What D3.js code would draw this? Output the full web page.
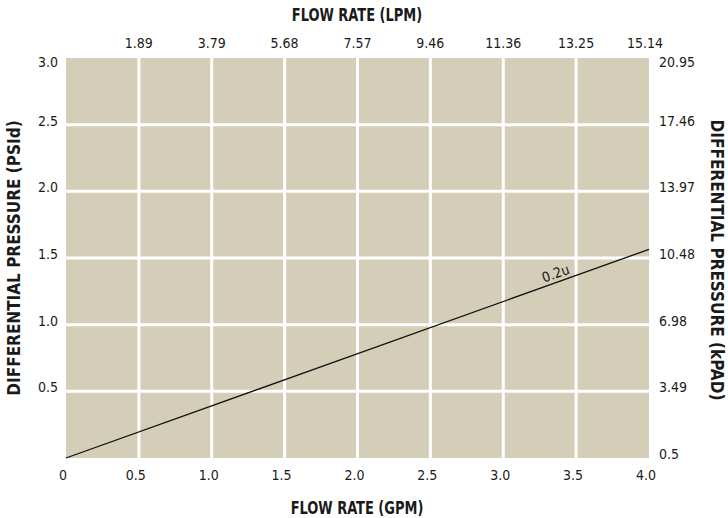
<!DOCTYPE html>
<html>
<head>
<meta charset="utf-8">
<script src="https://cdn.jsdelivr.net/npm/d3@7"></script>
<style>
body { margin: 0; background: #fff; }
text { font-family: "Liberation Sans Narrow", "DejaVu Sans Condensed", "Roboto", sans-serif; fill: #1a1a1a; }
.tick { font-size: 14px; }
.title { font-size: 17px; font-weight: bold; }
</style>
</head>
<body>
<svg id="chart" width="728" height="518"></svg>
<script>
// data
var gpmTicks = [0, 0.5, 1.0, 1.5, 2.0, 2.5, 3.0, 3.5, 4.0]
var lpmLabels = ['1.89', '3.79', '5.68', '7.57', '9.46', '11.36', '13.25', '15.14']
var psiTicks = [0.5, 1.0, 1.5, 2.0, 2.5, 3.0]
var kpaLabels = ['0.5', '3.49', '6.98', '10.48', '13.97', '17.46', '20.95']
var seriesName = '0.2u'
var flowGpm = [0, 4.0]
var dpPsi = [0, 1.565]

var svg = d3.select('#chart')
var m = { left: 66, right: 649, top: 58, bottom: 458 }
var x = d3.scaleLinear().domain([0, 4]).range([m.left, m.right])
var y = d3.scaleLinear().domain([0, 3]).range([m.bottom, m.top])

svg.append('rect')
    .attr('x', m.left).attr('y', m.top)
    .attr('width', m.right - m.left).attr('height', m.bottom - m.top)
    .attr('fill', '#d4cdb8')

// grid
svg.selectAll('line.vgrid')
    .data(gpmTicks.slice(1, -1))
    .enter().append('line')
        .attr('class', 'vgrid')
        .attr('x1', function(d) { return x(d); }).attr('x2', function(d) { return x(d); })
        .attr('y1', m.top).attr('y2', m.bottom)
        .attr('stroke', '#fff').attr('stroke-width', 3)
svg.selectAll('line.hgrid')
    .data(psiTicks.slice(0, -1))
    .enter().append('line')
        .attr('class', 'hgrid')
        .attr('y1', function(d) { return y(d); }).attr('y2', function(d) { return y(d); })
        .attr('x1', m.left).attr('x2', m.right)
        .attr('stroke', '#fff').attr('stroke-width', 3)

// series line
var pts = flowGpm.map(function(d, i) { return [d, dpPsi[i]]; })
svg.append('path')
    .datum(pts)
    .attr('fill', 'none').attr('stroke', '#111').attr('stroke-width', 1.3)
    .attr('d', d3.line().x(function(d) { return x(d[0]); }).y(function(d) { return y(d[1]); }))

var lx = 3.38
var ly = lx * dpPsi[1] / flowGpm[1]
var ang = Math.atan2(y(dpPsi[1]) - y(0), x(flowGpm[1]) - x(0)) * 180 / Math.PI
svg.append('text')
    .attr('class', 'tick')
    .attr('text-anchor', 'middle')
    .attr('transform', 'translate(' + x(lx) + ',' + y(ly) + ') rotate(' + ang + ') translate(0,-4)')
    .text(seriesName)

// bottom ticks
svg.selectAll('text.bx')
    .data(gpmTicks)
    .enter().append('text')
        .attr('class', 'tick bx')
        .attr('text-anchor', 'middle')
        .attr('x', function(d) { return x(d) - 3; })
        .attr('y', 480)
        .text(function(d) { return d == 0 ? '0' : d.toFixed(1); })

// top ticks
svg.selectAll('text.tx')
    .data(lpmLabels)
    .enter().append('text')
        .attr('class', 'tick tx')
        .attr('text-anchor', 'middle')
        .attr('x', function(d, i) { return x(gpmTicks[i + 1]) - (i == lpmLabels.length - 1 ? 4 : 0); })
        .attr('y', 48)
        .text(function(d) { return d; })

function labelY(v) { return Math.max(y(v) - 4, m.top + 4) + 5; }

// left ticks
svg.selectAll('text.ly')
    .data(psiTicks)
    .enter().append('text')
        .attr('class', 'tick ly')
        .attr('text-anchor', 'end')
        .attr('x', 58)
        .attr('y', function(d) { return labelY(d); })
        .text(function(d) { return d.toFixed(1); })

// right ticks
svg.selectAll('text.ry')
    .data(kpaLabels)
    .enter().append('text')
        .attr('class', 'tick ry')
        .attr('x', 659)
        .attr('y', function(d, i) { return labelY(i * 0.5); })
        .text(function(d) { return d; })

// titles
svg.append('text').attr('class', 'title').attr('text-anchor', 'middle')
    .attr('transform', 'translate(357,21) scale(0.85,1)').text('FLOW RATE (LPM)')
svg.append('text').attr('class', 'title').attr('text-anchor', 'middle')
    .attr('transform', 'translate(357,514) scale(0.85,1)').text('FLOW RATE (GPM)')
svg.append('text').attr('class', 'title').attr('text-anchor', 'middle')
    .attr('transform', 'translate(20,258) rotate(-90)').text('DIFFERENTIAL PRESSURE (PSId)')
svg.append('text').attr('class', 'title').attr('text-anchor', 'middle')
    .attr('transform', 'translate(711,260) rotate(90)').text('DIFFERENTIAL PRESSURE (kPAD)')
</script>
</body>
</html>
